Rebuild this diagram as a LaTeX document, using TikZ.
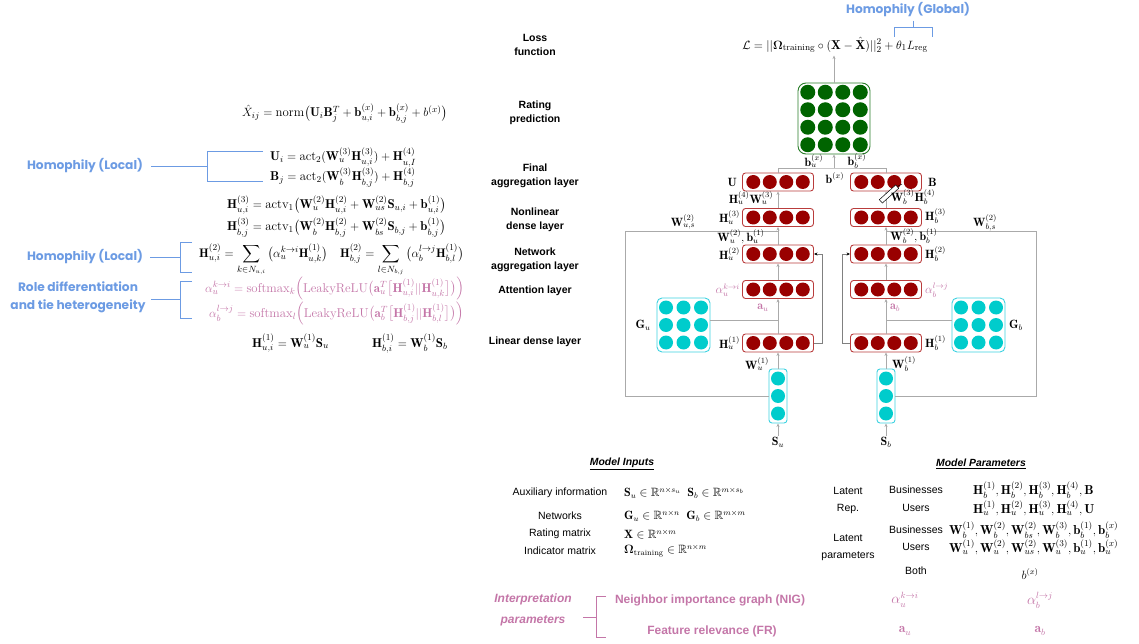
\documentclass[tikz,border=0pt]{standalone}
\usepackage{amsmath,amssymb}
\usepackage{fontspec}
\setsansfont{Liberation Sans}
\newfontfamily\comicfont{Poppins}
\usetikzlibrary{arrows.meta}

\definecolor{nodered}{RGB}{153,0,0}
\definecolor{boxred}{RGB}{185,60,60}
\definecolor{nodegreen}{RGB}{0,100,0}
\definecolor{boxgreen}{RGB}{40,125,40}
\definecolor{nodecyan}{RGB}{0,204,204}
\definecolor{boxcyan}{RGB}{60,210,225}
\definecolor{linegray}{RGB}{170,170,170}
\definecolor{homblue}{RGB}{108,155,227}
\definecolor{interpink}{RGB}{196,118,168}

\tikzset{
  redbox/.style={draw=boxred, line width=0.9pt, rounded corners=3pt, minimum width=71pt, minimum height=18pt, inner sep=0pt},
  greenbox/.style={draw=boxgreen, line width=0.9pt, rounded corners=8pt, minimum width=72pt, minimum height=71pt, inner sep=0pt},
  cyanbox/.style={draw=boxcyan, line width=0.9pt, rounded corners=5pt, inner sep=0pt},
  conn/.style={draw=linegray, line width=0.6pt},
  arr/.style={conn, -{Stealth[length=3.5pt,width=3pt]}},
  skiparr/.style={draw=gray, line width=0.6pt, -{Stealth[length=3.5pt,width=3pt,color=black]}},
  lab/.style={font=\fontsize{12}{14}\selectfont, inner sep=1pt},
  pinklab/.style={lab, text=interpink},
  layerlab/.style={font=\sffamily\bfseries\fontsize{10.5}{14.5}\selectfont, align=center},
  eq/.style={font=\fontsize{12.8}{15}\selectfont, anchor=base west, inner sep=0pt},
  hom/.style={font=\comicfont\bfseries\fontsize{12.2}{18}\selectfont, text=homblue, align=center},
  bluebr/.style={draw=homblue, line width=0.8pt},
  pinkbr/.style={draw=interpink, line width=0.8pt},
  tab/.style={font=\sffamily\fontsize{10.5}{17}\selectfont, align=center},
  tabm/.style={font=\fontsize{12}{14}\selectfont, anchor=west, inner sep=0pt},
  parm/.style={font=\fontsize{13}{15}\selectfont, anchor=west, inner sep=0pt},
  interp/.style={font=\sffamily\bfseries\fontsize{12}{21}\selectfont, text=interpink, align=center},
  interpm/.style={font=\fontsize{13.5}{15}\selectfont, text=interpink},
}

% a row of four hidden units
\newcommand{\redrow}[3]{%
  \node[redbox] (#1) at (#2,#3) {};
  \foreach \dx in {-24.75,-8.25,8.25,24.75}
    \fill[nodered] ({#2+\dx},#3) circle (7pt);
}
% a 3x3 network matrix
\newcommand{\netgrid}[3]{%
  \node[cyanbox, minimum width=53pt, minimum height=54pt] (#1) at (#2,#3) {};
  \foreach \dx in {-17.5,0,17.5}
    \foreach \dy in {-17.5,0,17.5}
      \fill[nodecyan] ({#2+\dx},{#3+\dy}) circle (7pt);
}
% a column of three input features
\newcommand{\featcol}[3]{%
  \node[cyanbox, rounded corners=3pt, minimum width=18pt, minimum height=54pt] (#1) at (#2,#3) {};
  \foreach \dy in {-17.5,0,17.5}
    \fill[nodecyan] (#2,{#3+\dy}) circle (7pt);
}

\begin{document}
\begin{tikzpicture}[x=1pt,y=-1pt]
\useasboundingbox (0,0) rectangle (1139,644);

% ---------------- loss and global homophily ----------------
\node[font=\fontsize{12.9}{14}\selectfont, inner sep=1pt] (loss) at (835,45)
  {$\mathcal{L} = ||\boldsymbol{\Omega}_{\text{training}} \circ (\mathbf{X}-\hat{\mathbf{X}})||_2^2 + \theta_1 L_{\text{reg}}$};
\node[hom] (homg) at (908,10) {Homophily (Global)};
\coordinate (gstem) at (913,27);
\draw[bluebr] (homg.south -| gstem) -- (gstem);
\draw[bluebr] (894,37) -- (894,27) -- (932,27) -- (932,37);

% ---------------- layer names ----------------
\node[layerlab] (l1) at (535,45) {Loss\\function};
\node[layerlab] (l2) at (535,113) {Rating\\prediction};
\node[layerlab] (l3) at (535,176) {Final\\aggregation layer};
\node[layerlab] (l4) at (535,220) {Nonlinear\\dense layer};
\node[layerlab] (l5) at (535,260) {Network\\aggregation layer};
\node[layerlab] (l6) at (535,291) {Attention layer};
\node[layerlab] (l7) at (535,342) {Linear dense layer};

% ---------------- equations ----------------
\node[eq] (e1) at (242,117) {$\hat{X}_{ij} = \mathrm{norm}\big(\mathbf{U}_i\mathbf{B}_j^T + \mathbf{b}_{u,i}^{(x)} + \mathbf{b}_{b,j}^{(x)} + b^{(x)}\big)$};
\node[eq] (e2) at (270,161) {$\mathbf{U}_i = \mathrm{act}_2(\mathbf{W}_u^{(3)}\mathbf{H}_{u,i}^{(3)}) + \mathbf{H}_{u,I}^{(4)}$};
\node[eq] (e3) at (270,181) {$\mathbf{B}_j = \mathrm{act}_2(\mathbf{W}_b^{(3)}\mathbf{H}_{b,j}^{(3)}) + \mathbf{H}_{b,j}^{(4)}$};
\node[eq] (e4) at (227,209) {$\mathbf{H}_{u,i}^{(3)} = \mathrm{actv}_1\big(\mathbf{W}_u^{(2)}\mathbf{H}_{u,i}^{(2)} + \mathbf{W}_{us}^{(2)}\mathbf{S}_{u,i} + \mathbf{b}_{u,i}^{(1)}\big)$};
\node[eq] (e5) at (227,231) {$\mathbf{H}_{b,j}^{(3)} = \mathrm{actv}_1\big(\mathbf{W}_b^{(2)}\mathbf{H}_{b,j}^{(2)} + \mathbf{W}_{bs}^{(2)}\mathbf{S}_{b,j} + \mathbf{b}_{b,j}^{(1)}\big)$};
\node[eq, font=\fontsize{12.4}{15}\selectfont] (e6) at (199,257) {$\displaystyle\mathbf{H}_{u,i}^{(2)} = \sum_{k\in N_{u,i}} \big(\alpha_u^{k\to i}\mathbf{H}_{u,k}^{(1)}\big) \quad \mathbf{H}_{b,j}^{(2)} = \sum_{l\in N_{b,j}} \big(\alpha_b^{l\to j}\mathbf{H}_{b,l}^{(1)}\big)$};
\node[eq, text=interpink] (e7) at (205,292) {$\alpha_u^{k\to i} = \mathrm{softmax}_k\Big(\mathrm{LeakyReLU}\big(\mathbf{a}_u^T\big[\mathbf{H}_{u,i}^{(1)}||\mathbf{H}_{u,k}^{(1)}\big]\big)\Big)$};
\node[eq, text=interpink] (e8) at (209,317) {$\alpha_b^{l\to j} = \mathrm{softmax}_l\Big(\mathrm{LeakyReLU}\big(\mathbf{a}_b^T\big[\mathbf{H}_{b,j}^{(1)}||\mathbf{H}_{b,l}^{(1)}\big]\big)\Big)$};
\node[eq] (e9) at (252,347) {$\mathbf{H}_{u,i}^{(1)} = \mathbf{W}_u^{(1)}\mathbf{S}_u$};
\node[eq] (e10) at (372,347) {$\mathbf{H}_{b,i}^{(1)} = \mathbf{W}_b^{(1)}\mathbf{S}_b$};

% ---------------- interpretation brackets ----------------
\node[hom] (hl1) at (85,166) {Homophily (Local)};
\draw[bluebr] (151,166) -- (207,166);
\draw[bluebr] (263,151) -- (207,151) -- (207,181) -- (263,181);
\node[hom] (hl2) at (85,257) {Homophily (Local)};
\draw[bluebr] (150,257) -- (180,257);
\draw[bluebr] (192,242) -- (180,242) -- (180,272) -- (192,272);
\node[hom] (role) at (78,297) {Role differentiation\\and tie heterogeneity};
\draw[bluebr] (151,299) -- (180,299);
\draw[bluebr] (192,281) -- (180,281) -- (180,318) -- (192,318);

% ---------------- network ----------------
\node[greenbox] (pred) at (834,118.5) {};
\foreach \dx in {-26.25,-8.75,8.75,26.25}
  \foreach \dy in {-26.25,-8.75,8.75,26.25}
    \fill[nodegreen] ({834+\dx},{118.5+\dy}) circle (7.5pt);

\redrow{ubox}{778}{182}
\redrow{bbox}{886}{182}
\redrow{uh3}{778}{217.5}
\redrow{bh3}{886}{217.5}
\redrow{uh2}{778}{254}
\redrow{bh2}{886}{254}
\redrow{uatt}{778}{289.5}
\redrow{batt}{886}{289.5}
\redrow{uh1}{778}{343}
\redrow{bh1}{886}{343}

\netgrid{gu}{683.5}{325}
\netgrid{gb}{978.5}{325}
\featcol{su}{778}{396}
\featcol{sb}{886}{396}

\node[lab] (sulab) at (778,442) {$\mathbf{S}_u$};
\node[lab] (sblab) at (886,442) {$\mathbf{S}_b$};

% connectors, user side
\draw[arr] (sulab) -- (su.south);
\draw[arr] (su.north) -- (uh1.south);
\draw[arr] (uh1.north) -- (uatt.south);
\draw[arr] (uatt.north) -- (uh2.south);
\draw[arr] (uh2.north) -- (uh3.south);
\draw[arr] (uh3.north) -- (ubox.south);
\coordinate (gujoin) at (778,320);
\draw[conn] (gu.east |- gujoin) -- (gujoin);
\coordinate (sujoin) at (778,231);
\draw[conn] (su.west) -- ++(-143,0) |- (sujoin);
\draw[skiparr] (uh1.east) -- ++(8,0) |- (uh2.east);

% connectors, business side
\draw[arr] (sblab) -- (sb.south);
\draw[arr] (sb.north) -- (bh1.south);
\draw[arr] (bh1.north) -- (batt.south);
\draw[arr] (batt.north) -- (bh2.south);
\draw[arr] (bh2.north) -- (bh3.south);
\draw[arr] (bh3.north) -- (bbox.south);
\coordinate (gbjoin) at (886,320);
\draw[conn] (gb.west |- gbjoin) -- (gbjoin);
\coordinate (sbjoin) at (886,231);
\draw[conn] (sb.east) -- ++(141,0) |- (sbjoin);
\draw[skiparr] (bh1.west) -- ++(-8,0) |- (bh2.west);

% output
\coordinate (topjoin) at (834,168);
\draw[conn] (ubox.north) |- (topjoin) -| (bbox.north);
\draw[arr] (topjoin) -- (pred.south);
\draw[arr] (pred.north) -- ++(0,-27);

% stray outlined arrow on the business side
\node[draw, line width=0.5pt, fill=white, minimum width=22pt, minimum height=4.5pt, inner sep=0pt, rotate=42] (stray) at (889,194) {};
\draw[line width=0.5pt] (stray.east) -- (902,184);

% labels, user side
\node[lab, anchor=east] (ulab) at (738,182) {$\mathbf{U}$};
\node[lab] (hu4) at (751,198) {$\mathbf{H}_u^{(4)}\mathbf{W}_u^{(3)}$};
\node[lab, anchor=east] (hu3) at (741,217.5) {$\mathbf{H}_u^{(3)}$};
\node[lab] (wus) at (683,222) {$\mathbf{W}_{u,s}^{(2)}$};
\node[lab] (wu2) at (741,237) {$\mathbf{W}_u^{(2)},\mathbf{b}_u^{(1)}$};
\node[lab, anchor=east] (hu2) at (741,254) {$\mathbf{H}_u^{(2)}$};
\node[pinklab, anchor=east] (alu) at (741,290) {$\alpha_u^{k\to i}$};
\node[pinklab] (au) at (763,308) {$\mathbf{a}_u$};
\node[lab, anchor=east] (hu1) at (741,343) {$\mathbf{H}_u^{(1)}$};
\node[lab] (wu1) at (757,364) {$\mathbf{W}_u^{(1)}$};
\node[lab] (gulab) at (643,325) {$\mathbf{G}_u$};

% labels, business side
\node[lab, anchor=west] (blab) at (927,182) {$\mathbf{B}$};
\node[lab] (hb4) at (913,197) {$\mathbf{W}_b^{(3)}\mathbf{H}_b^{(4)}$};
\node[lab, anchor=west] (hb3) at (924,216) {$\mathbf{H}_b^{(3)}$};
\node[lab] (wbs) at (985,223) {$\mathbf{W}_{b,s}^{(2)}$};
\node[lab] (wb2) at (914,236) {$\mathbf{W}_b^{(2)},\mathbf{b}_b^{(1)}$};
\node[lab, anchor=west] (hb2) at (924,254) {$\mathbf{H}_b^{(2)}$};
\node[pinklab, anchor=west] (alb) at (924,290) {$\alpha_b^{l\to j}$};
\node[pinklab] (ab) at (895,308) {$\mathbf{a}_b$};
\node[lab, anchor=west] (hb1) at (924,343) {$\mathbf{H}_b^{(1)}$};
\node[lab] (wb1) at (904,364) {$\mathbf{W}_b^{(1)}$};
\node[lab] (gblab) at (1016,325) {$\mathbf{G}_b$};

\node[lab] (bux) at (814,161) {$\mathbf{b}_u^{(x)}$};
\node[lab] (bbx) at (857,161) {$\mathbf{b}_b^{(x)}$};
\node[lab] (bx) at (835,178) {$\mathbf{b}^{(x)}$};

% ---------------- model inputs ----------------
\node[font=\sffamily\bfseries\itshape\fontsize{10.4}{12}\selectfont] (mi) at (622,464) {\underline{Model Inputs}};
\node[tab] (t1) at (560,493) {Auxiliary information};
\node[tab] (t2) at (560,516) {Networks};
\node[tab] (t3) at (560,534) {Rating matrix};
\node[tab] (t4) at (560,551) {Indicator matrix};
\node[tabm] (m1) at (624,493) {$\mathbf{S}_u\in\mathbb{R}^{n\times s_u}\;\;\mathbf{S}_b\in\mathbb{R}^{m\times s_b}$};
\node[tabm] (m2) at (624,516) {$\mathbf{G}_u\in\mathbb{R}^{n\times n}\;\;\mathbf{G}_b\in\mathbb{R}^{m\times m}$};
\node[tabm] (m3) at (624,534) {$\mathbf{X}\in\mathbb{R}^{n\times m}$};
\node[tabm] (m4) at (624,551) {$\boldsymbol{\Omega}_{\text{training}}\in\mathbb{R}^{n\times m}$};

% ---------------- model parameters ----------------
\node[font=\sffamily\bfseries\itshape\fontsize{10.4}{12}\selectfont] (mp) at (981,464) {\underline{Model Parameters}};
\node[tab] (r1) at (848,500) {Latent\\Rep.};
\node[tab] (r2) at (916,490) {Businesses};
\node[tab] (r3) at (916,508) {Users};
\node[tab] (r4) at (848,547) {Latent\\parameters};
\node[tab] (r5) at (916,530) {Businesses};
\node[tab] (r6) at (916,547) {Users};
\node[tab] (r7) at (916,571) {Both};
\node[parm] (p1) at (973,490) {$\mathbf{H}_b^{(1)},\mathbf{H}_b^{(2)},\mathbf{H}_b^{(3)},\mathbf{H}_b^{(4)},\mathbf{B}$};
\node[parm] (p2) at (973,508) {$\mathbf{H}_u^{(1)},\mathbf{H}_u^{(2)},\mathbf{H}_u^{(3)},\mathbf{H}_u^{(4)},\mathbf{U}$};
\node[parm] (p3) at (949,530) {$\mathbf{W}_b^{(1)},\mathbf{W}_b^{(2)},\mathbf{W}_{bs}^{(2)},\mathbf{W}_b^{(3)},\mathbf{b}_b^{(1)},\mathbf{b}_b^{(x)}$};
\node[parm] (p4) at (949,547) {$\mathbf{W}_u^{(1)},\mathbf{W}_u^{(2)},\mathbf{W}_{us}^{(2)},\mathbf{W}_u^{(3)},\mathbf{b}_u^{(1)},\mathbf{b}_u^{(x)}$};
\node[font=\fontsize{12}{14}\selectfont] (p5) at (1030,574) {$b^{(x)}$};

% ---------------- interpretation parameters ----------------
\node[interp, font=\sffamily\bfseries\itshape\fontsize{12}{21}\selectfont] (ip) at (533,610) {Interpretation\\parameters};
\draw[pinkbr] (583,617) -- (596,617);
\draw[pinkbr] (606,596) -- (596,596) -- (596,637) -- (606,637);
\node[interp] (nig) at (710,600) {Neighbor importance graph (NIG)};
\node[interp] (fr) at (712,631) {Feature relevance (FR)};
\node[interpm] (nu) at (905,600) {$\alpha_u^{k\to i}$};
\node[interpm] (nb) at (1040,600) {$\alpha_b^{l\to j}$};
\node[interpm] (fu) at (905,631) {$\mathbf{a}_u$};
\node[interpm] (fb) at (1040,631) {$\mathbf{a}_b$};

\end{tikzpicture}
\end{document}
